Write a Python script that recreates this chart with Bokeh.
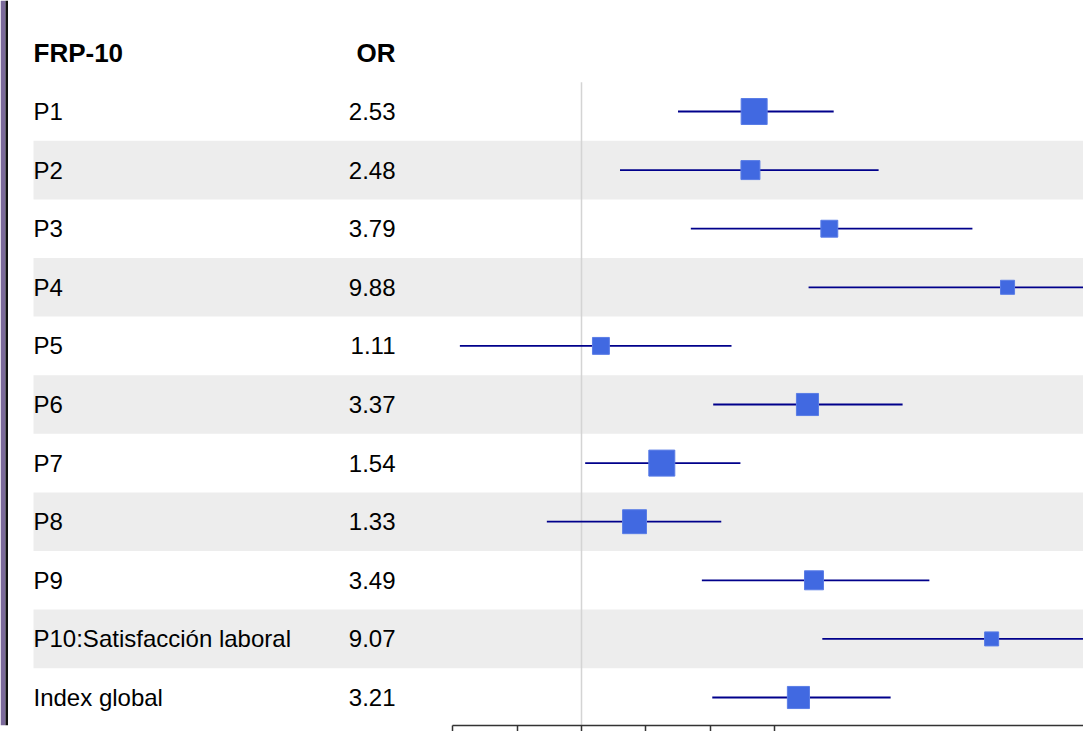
import math
from bokeh.plotting import figure
from bokeh.models import Range1d, FixedTicker, ColumnDataSource, LinearScale
from bokeh.embed import file_html
from bokeh.resources import INLINE
from bokeh.core.properties import value

# ---------------- data ----------------
col_header = "FRP-10"
val_header = "OR"
labels = ["P1", "P2", "P3", "P4", "P5", "P6", "P7", "P8", "P9",
          "P10:Satisfacción laboral", "Index global"]
odds_ratio = [2.53, 2.48, 3.79, 9.88, 1.11, 3.37, 1.54, 1.33, 3.49, 9.07, 3.21]
ci_low = [1.68, 1.23, 1.80, 3.39, 0.52, 2.03, 1.02, 0.83, 1.91, 3.65, 2.02]
ci_high = [3.88, 4.94, 8.18, 28.0, 2.24, 5.62, 2.35, 2.12, 6.49, 22.0, 5.27]
weights = [1.00, 0.73, 0.65, 0.54, 0.65, 0.85, 1.00, 0.92, 0.73, 0.54, 0.85]
axis_ticks = [0.5, 0.707, 1.0, 1.414, 2.0, 2.828]
null_value = 1.0

# ---------------- layout ----------------
FRAME_W, FRAME_H = 1083, 725
PX_PER_LN = 186.0
X_NULL_PX = 581.0              # frame pixel of OR = 1
ROW0_PX = 111.0                # frame pixel of first row
ROW_PX = 58.6

x_lo = math.exp((0 - X_NULL_PX) / PX_PER_LN)
x_hi = math.exp((FRAME_W - X_NULL_PX) / PX_PER_LN)
k_top = 1 + (0 - ROW0_PX) / ROW_PX
k_bot = 1 + (FRAME_H - ROW0_PX) / ROW_PX

rows = list(range(1, len(labels) + 1))
FONT = value("Liberation Sans")

p = figure(frame_width=FRAME_W, frame_height=FRAME_H,
           x_axis_type="log", x_range=Range1d(x_lo, x_hi),
           y_range=Range1d(k_bot, k_top),
           y_axis_location=None, x_axis_location="below",
           output_backend="svg", toolbar_location=None,
           min_border=0, outline_line_color=None)
p.extra_x_ranges = {"px": Range1d(0, FRAME_W)}
p.extra_x_scales = {"px": LinearScale()}
p.xgrid.visible = False
p.ygrid.visible = False

# window edge stripe
p.quad(left=[0], right=[5], top=[k_top], bottom=[k_bot], x_range_name="px",
       fill_color="#7b6a9b", line_color=None)
p.quad(left=[5], right=[7.5], top=[k_top], bottom=[k_bot], x_range_name="px",
       fill_color="#111111", line_color=None)

# zebra bands
band_rows = [r for r in rows if r % 2 == 0]
p.quad(left=[33] * len(band_rows), right=[FRAME_W] * len(band_rows),
       top=[r - 0.5 for r in band_rows], bottom=[r + 0.5 for r in band_rows],
       x_range_name="px", fill_color="#ededed", line_color=None)

# null line
p.segment(x0=[null_value], x1=[null_value], y0=[0.5], y1=[k_bot],
          line_color="#d4d4d4", line_width=1.5)

# confidence intervals
src = ColumnDataSource(dict(lab=labels, orv=odds_ratio, lo=ci_low, hi=ci_high,
                            row=rows, sz=[26 * w for w in weights],
                            ortxt=["%.2f" % v for v in odds_ratio]))
p.segment(x0="lo", x1="hi", y0="row", y1="row", source=src,
          line_color="#00008b", line_width=1.8)
p.scatter(x="orv", y="row", size="sz", marker="square", source=src,
          fill_color="#4169e1", line_color="#5a7de6", line_width=1)

# table text
p.text(x=33, y="row", text="lab", source=src, x_range_name="px",
       text_font=FONT, text_font_size="24px", text_baseline="middle",
       text_align="left", text_color="#000000")
p.text(x=395, y="row", text="ortxt", source=src, x_range_name="px",
       text_font=FONT, text_font_size="24px", text_baseline="middle",
       text_align="right", text_color="#000000")
p.text(x=[33], y=[0], text=[col_header], x_range_name="px",
       text_font=FONT, text_font_size="26px", text_font_style="bold",
       text_baseline="middle", text_align="left", text_color="#000000")
p.text(x=[395], y=[0], text=[val_header], x_range_name="px",
       text_font=FONT, text_font_size="26px", text_font_style="bold",
       text_baseline="middle", text_align="right", text_color="#000000")

# x axis (tick labels fall outside the visible window in the reference)
ax = p.xaxis[0]
ax.ticker = FixedTicker(ticks=axis_ticks)
ax.bounds = (axis_ticks[0], x_hi * 3)
ax.major_label_overrides = {t: "" for t in axis_ticks}
ax.major_label_standoff = 0
ax.major_tick_out = 6
ax.major_tick_in = 0
ax.minor_tick_line_color = None
ax.axis_line_color = "#333333"
ax.major_tick_line_color = "#333333"
ax.axis_line_width = 1.5
ax.major_tick_line_width = 1.5

open("out.html", "w").write(file_html(p, INLINE))
